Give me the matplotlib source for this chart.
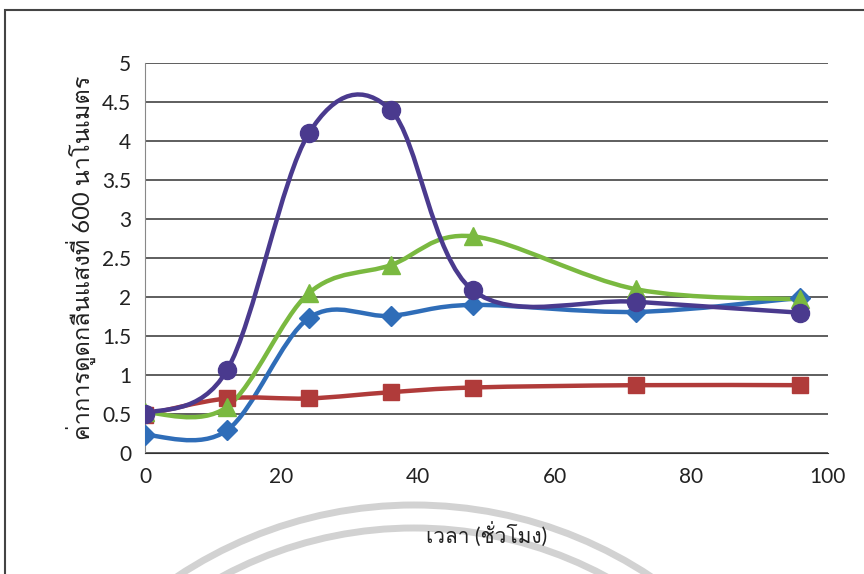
import matplotlib
matplotlib.use("Agg")
import matplotlib.pyplot as plt
from matplotlib import font_manager
from matplotlib.ft2font import FT2Font
from matplotlib.path import Path
from matplotlib.patches import PathPatch, Arc, Rectangle
from matplotlib.transforms import IdentityTransform
import numpy as np

# data
hours = [0, 12, 24, 36, 48, 72, 96]
blue = [0.23, 0.29, 1.73, 1.76, 1.90, 1.81, 1.99]
red = [0.49, 0.70, 0.70, 0.78, 0.84, 0.87, 0.87]
green = [0.52, 0.59, 2.05, 2.41, 2.78, 2.10, 1.97]
purple = [0.50, 1.06, 4.10, 4.40, 2.09, 1.94, 1.80]

xlabel = "เวลา (ชั่วโมง)"
ylabel = "ค่าการดูดกลืนแสงที่ 600 นาโนเมตร"

# find an installed font that has Thai glyphs
thai_font = None
for f in font_manager.fontManager.ttflist:
    try:
        ft = FT2Font(f.fname)
        if ft.get_char_index(ord("ก")) and ft.get_char_index(ord("ู")):
            thai_font = f.name
            break
    except Exception:
        pass
families = ["Lato"] + ([thai_font] if thai_font else []) + ["DejaVu Sans"]
plt.rcParams["font.family"] = families


def smooth_path(x, y):
    # Excel-like smoothed line (Catmull-Rom as cubic Bezier)
    pts = np.column_stack([x, y]).astype(float)
    n = len(pts)
    verts = [pts[0]]
    codes = [Path.MOVETO]
    for i in range(n - 1):
        p0 = pts[i - 1] if i > 0 else pts[i]
        p1 = pts[i]
        p2 = pts[i + 1]
        p3 = pts[i + 2] if i + 2 < n else pts[i + 1]
        c1 = p1 + (p2 - p0) / 6
        c2 = p2 - (p3 - p1) / 6
        verts += [c1, c2, p2]
        codes += [Path.CURVE4] * 3
    return Path(verts, codes)


fig = plt.figure(figsize=(8.64, 5.74), dpi=100)

# faint watermark arcs at the bottom (behind everything)
for r in [428, 405]:
    fig.add_artist(Arc((414, -359), 2 * r, 2 * r, theta1=45, theta2=135,
                       transform=IdentityTransform(),
                       edgecolor="#d2d2d2", linewidth=5, zorder=-5))

ax = fig.add_axes([0.1678, 0.2108, 0.790, 0.679])
ax.patch.set_alpha(0)

series = [
    (blue, "#2f6db8", "D", 10),
    (red, "#b03b3a", "s", 12),
    (green, "#7ab940", "^", 13),
    (purple, "#4a3a8e", "o", 13),
]
for vals, col, mk, ms in series:
    ax.add_patch(PathPatch(smooth_path(hours, vals), fill=False,
                           edgecolor=col, linewidth=3.2, zorder=3))
    ax.plot(hours, vals, linestyle="none", marker=mk, markersize=ms,
            color=col, markeredgecolor=col, zorder=4)

ax.set_xlim(0, 100)
ax.set_ylim(0, 5)
ax.set_xticks([0, 20, 40, 60, 80, 100])
ax.set_yticks(np.arange(0, 5.01, 0.5))
ax.set_yticklabels(["0", "0.5", "1", "1.5", "2", "2.5", "3", "3.5", "4", "4.5", "5"])
ax.grid(axis="y", color="#333333", linewidth=1.1)
ax.set_axisbelow(True)
ax.tick_params(length=0, labelsize=15, colors="#222222", pad=10)
for s in ["top", "right"]:
    ax.spines[s].set_visible(False)
ax.spines["left"].set_color("#888888")
ax.spines["bottom"].set_color("#333333")

ax.set_xlabel(xlabel, fontsize=15, color="#222222", labelpad=26)
ax.set_ylabel(ylabel, fontsize=17, color="#222222", labelpad=4)

# chart frame (top and left edges visible)
fig.add_artist(Rectangle((5 / 864, -0.05), 1.2, 1 - 10 / 574 + 0.05,
                         transform=fig.transFigure, fill=False,
                         edgecolor="#444444", linewidth=1.5))

fig.savefig("out.png", dpi=100)
